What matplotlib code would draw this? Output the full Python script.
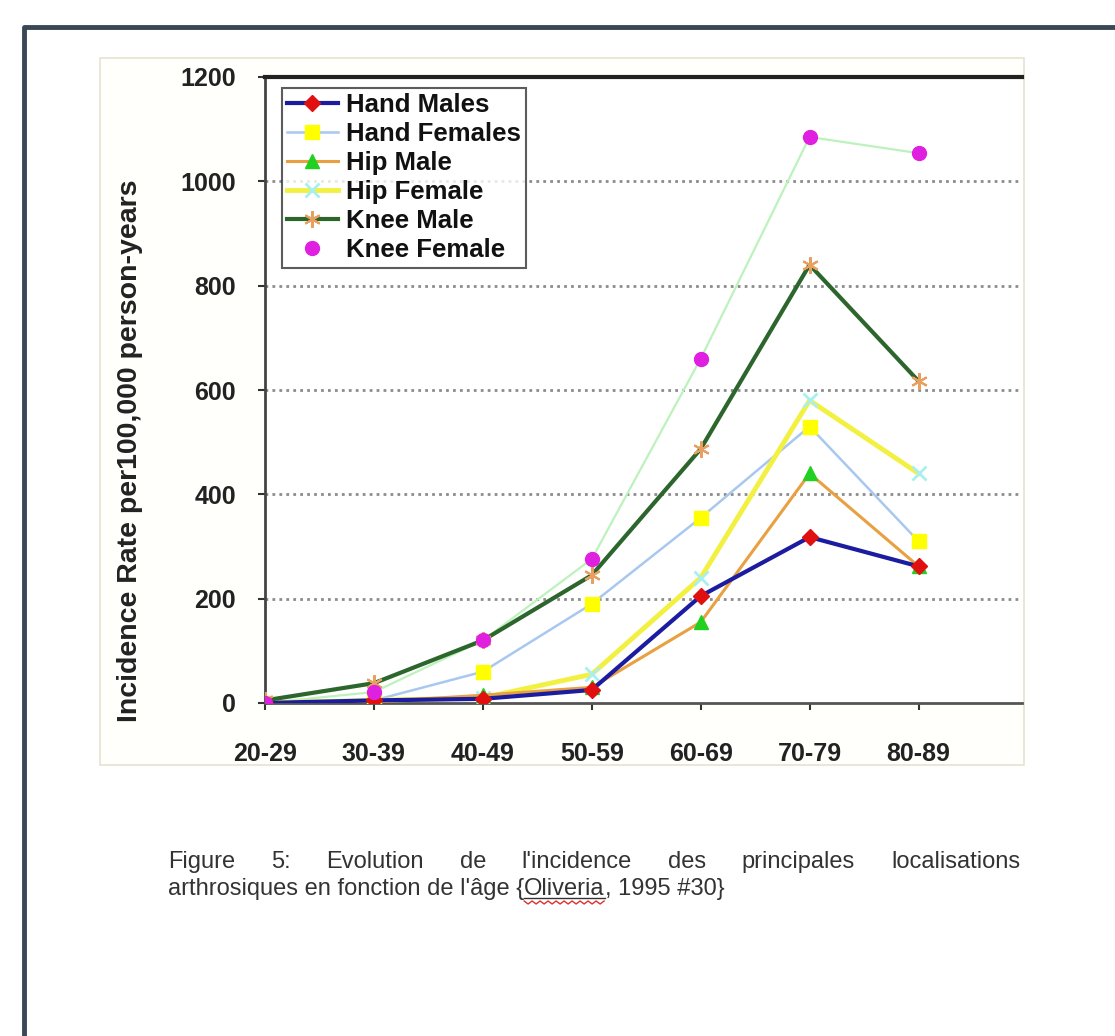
import numpy as np
import matplotlib
matplotlib.use("Agg")
import matplotlib.pyplot as plt
from matplotlib.lines import Line2D
from matplotlib.patches import Rectangle

plt.rcParams['font.family'] = ['Liberation Sans', 'DejaVu Sans']

# data
age_groups = ['20-29', '30-39', '40-49', '50-59', '60-69', '70-79', '80-89']
hand_males = [0, 5, 8, 25, 205, 318, 262]
hand_females = [0, 5, 60, 190, 355, 530, 310]
hip_male = [0, 2, 15, 30, 155, 440, 262]
hip_female = [0, 5, 10, 55, 240, 580, 440]
knee_male = [5, 38, 120, 245, 487, 840, 617]
knee_female = [0, 21, 120, 276, 660, 1085, 1054]
y_ticks = [0, 200, 400, 600, 800, 1000, 1200]

caption_1 = "Figure 5: Evolution  de l'incidence des principales localisations"
caption_2 = ["arthrosiques en fonction de l'âge {", "Oliveria", ", 1995 #30}"]

W, H = 1115, 1036
fig = plt.figure(figsize=(W / 100, H / 100), dpi=100)
fig.patch.set_facecolor('white')

def fx(px):
    return px / W

def fy(py):
    return 1 - py / H

# outer document frame
fig.add_artist(Line2D([fx(24), fx(24), 1.0], [0.0, fy(27), fy(27)],
                      color='#3a4856', lw=3.5, transform=fig.transFigure))
# chart area
fig.add_artist(Rectangle((fx(100), fy(765)), fx(1024) - fx(100), fy(58) - fy(765),
                         facecolor='#fffffb', edgecolor='#e6e3d2', lw=1.2,
                         transform=fig.transFigure, zorder=0))

ax = fig.add_axes([fx(265), fy(703), fx(1022) - fx(265), fy(77) - fy(703)])
ax.set_facecolor('white')
x = np.arange(len(age_groups))

ax.plot(x, knee_female, color='#bdf2bd', lw=1.6, zorder=2)
ax.plot(x, hand_females, color='#a8c8f0', lw=1.8, marker='s', ms=10,
        mfc='#ffff00', mec='#ffff00', label='Hand Females', zorder=3)
ax.plot(x, hip_female, color='#f2f040', lw=3.5, marker='x', ms=10, mew=2,
        mfc='#a8f0f0', mec='#a8f0f0', label='Hip Female', zorder=3)
ax.plot(x, hip_male, color='#e8a040', lw=2.2, marker='^', ms=10,
        mfc='#22d022', mec='#22d022', label='Hip Male', zorder=4)
ax.plot(x, hand_males, color='#1c1ca0', lw=3, marker='D', ms=8,
        mfc='#e01010', mec='#e01010', label='Hand Males', zorder=5)
ax.plot(x, knee_male, color='#2d662d', lw=3, marker=(6, 2, 0), ms=12, mew=1.5,
        mfc='#e8a060', mec='#e8a060', label='Knee Male', zorder=6)
ax.plot(x, knee_female, ls='none', marker='o', ms=10,
        mfc='#e020e0', mec='#e020e0', label='Knee Female', zorder=7)

ax.set_xlim(0, 6.95)
ax.set_ylim(0, 1200)
ax.set_xticks(x)
ax.set_xticklabels(age_groups)
ax.set_yticks(y_ticks)
ax.set_yticklabels([str(v) for v in y_ticks])
for lab in ax.get_xticklabels() + ax.get_yticklabels():
    lab.set_fontweight('bold')
    lab.set_fontsize(18)
    lab.set_color('#222222')
ax.tick_params(axis='y', length=5, width=1.5, pad=16, color='#333333')
ax.tick_params(axis='x', length=5, width=1.5, pad=23, color='#333333')

for yv in y_ticks[1:-1]:
    ax.axhline(yv, color='#8c8c8c', lw=2, ls=(0, (1, 1.5)), zorder=1)

ax.spines['right'].set_visible(False)
ax.spines['top'].set_linewidth(3)
ax.spines['top'].set_color('#222222')
ax.spines['left'].set_linewidth(2)
ax.spines['left'].set_color('#444444')
ax.spines['bottom'].set_linewidth(2)
ax.spines['bottom'].set_color('#555555')

handles, labels = ax.get_legend_handles_labels()
order = ['Hand Males', 'Hand Females', 'Hip Male', 'Hip Female', 'Knee Male', 'Knee Female']
hmap = dict(zip(labels, handles))
leg = ax.legend([hmap[k] for k in order], order, loc='upper left',
                bbox_to_anchor=(0.022, 0.983), prop={'weight': 'bold', 'size': 18.5},
                frameon=True, fancybox=False, edgecolor='#333333', borderpad=0.2,
                handlelength=2.0, handletextpad=0.3, labelspacing=0.2, borderaxespad=0)
leg.get_frame().set_linewidth(1.5)
for t in leg.get_texts():
    t.set_color('#111111')

fig.text(fx(130), fy(451), 'Incidence Rate per100,000 person-years', rotation=90,
         ha='center', va='center', fontsize=20.5, fontweight='bold', color='#222222')

# caption: first line justified between the margins
cap_kw = dict(fontsize=17, color='#333333', va='baseline', ha='left')
renderer = fig.canvas.get_renderer()
words = caption_1.split()
texts = [fig.text(0, fy(868), w, **cap_kw) for w in words]
widths = [t.get_window_extent(renderer).width for t in texts]
left, right = 168, 1020
gap = (right - left - sum(widths)) / (len(words) - 1)
pos = left
for t, w in zip(texts, widths):
    t.set_x(fx(pos))
    pos += w + gap

pos = 168
squig = None
for part in caption_2:
    t = fig.text(fx(pos), fy(895), part, **cap_kw)
    w = t.get_window_extent(renderer).width
    if part == 'Oliveria':
        squig = (pos, pos + w)
    pos += w

# underline and spell-check squiggle under "Oliveria"
fig.add_artist(Line2D([fx(squig[0]), fx(squig[1])], [fy(898), fy(898)],
                      color='#333333', lw=1, transform=fig.transFigure))
sx = np.arange(squig[0], squig[1], 4.0)
sy = np.where(np.arange(len(sx)) % 2 == 0, 901, 904)
fig.add_artist(Line2D(fx(sx), fy(sy), color='#e03030', lw=1, transform=fig.transFigure))

fig.savefig('out.png', dpi=100)
